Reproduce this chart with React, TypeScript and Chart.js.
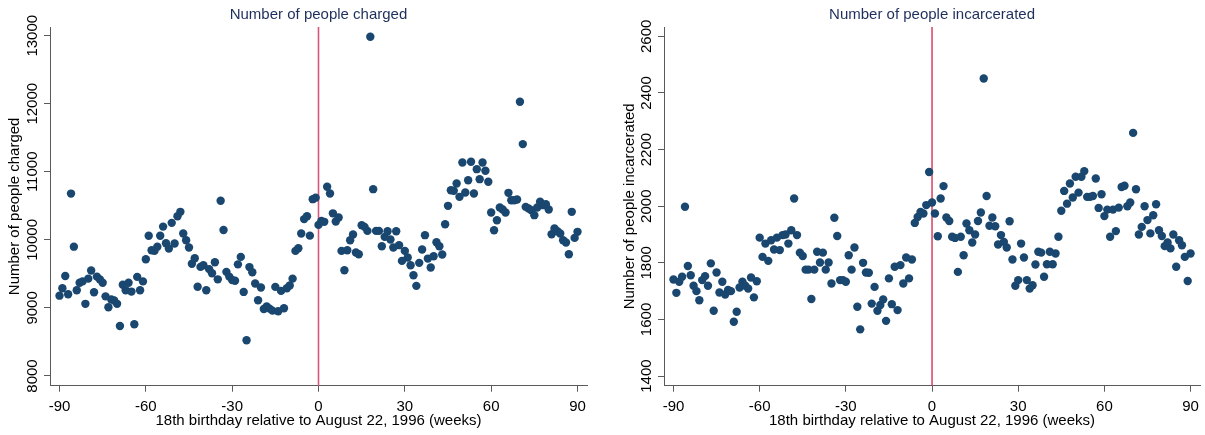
import { useEffect, useRef } from "react";
import Chart from "chart.js/auto";

// --- Data (weekly, -90 .. 90) ---
const WEEK_START = -90;
const WEEK_COUNT = 181;
const WEEKS = Array.from({ length: WEEK_COUNT }, (_, i) => WEEK_START + i);

const CHARGED = [
  9180, 9290, 9470, 9200, 10680, 9900, 9260, 9370, 9390, 9060,
  9430, 9550, 9230, 9460, 9420, 9370, 9170, 9010, 9125, 9110,
  9060, 8735, 9340, 9260, 9370, 9240, 8760, 9456, 9260, 9390,
  9716, 10060, 9848, 9838, 9900, 10060, 10195, 9950, 9873, 10250,
  9946, 10348, 10412, 10093, 9995, 9887, 9650, 9730, 9310, 9603,
  9627, 9260, 9570, 9510, 9670, 9420, 10574, 10145, 9530, 9460,
  9410, 9400, 9640, 9750, 9235, 8525, 9600, 9525, 9358, 9113,
  9300, 8985, 9020, 8990, 8960, 9309, 8951, 9250, 8995, 9290,
  9330, 9430, 9838, 9878, 10094, 10305, 10348, 10062, 10598, 10620,
  10220, 10279, 10265, 10780, 10682, 10390, 10270, 10330, 9838, 9554,
  9848, 9995, 10080, 9814, 9789, 10216, 10191, 10132, 12985, 10745,
  10132, 10132, 9907, 10044, 10127, 10005, 9887, 10127, 9922, 9691,
  9838, 9740, 9627, 9480, 9324, 9662, 9858, 10069, 9725, 9593,
  9760, 9966, 9907, 9784, 10230, 10500, 10730, 10721, 10828, 10632,
  11137, 10696, 10877, 11147, 10681, 11039, 10892, 11137, 11015, 10853,
  10402, 10142, 10289, 10475, 10446, 10402, 10691, 10583, 10583, 10593,
  12029, 11407, 10485, 10461, 10436, 10363, 10475, 10559, 10510, 10525,
  10446, 10083, 10167, 10127, 10093, 9995, 9961, 9789, 10412, 10029,
  10118,
];

const INCARCERATED = [
  1741, 1694, 1733, 1751, 1998, 1789, 1756, 1719, 1700, 1668,
  1739, 1753, 1719, 1798, 1631, 1766, 1695, 1733, 1688, 1704,
  1700, 1592, 1627, 1713, 1733, 1719, 1709, 1748, 1678, 1735,
  1889, 1821, 1868, 1807, 1880, 1847, 1889, 1845, 1898, 1900,
  1868, 1915, 2027, 1898, 1836, 1824, 1776, 1776, 1672, 1776,
  1839, 1801, 1836, 1776, 1801, 1727, 1959, 1895, 1739, 1739,
  1733, 1827, 1776, 1854, 1645, 1565, 1800, 1766, 1765, 1656,
  1715, 1631, 1651, 1671, 1595, 1745, 1654, 1786, 1633, 1792,
  1727, 1819, 1745, 1812, 1941, 1962, 1980, 1974, 2004, 2121,
  2013, 1974, 1894, 2027, 2071, 1960, 1948, 1892, 1888, 1768,
  1892, 1827, 1939, 1915, 1872, 1900, 1948, 1978, 2451, 2036,
  1931, 1960, 1929, 1865, 1898, 1874, 1854, 1947, 1812, 1719,
  1739, 1868, 1819, 1739, 1709, 1721, 1794, 1839, 1836, 1751,
  1795, 1839, 1795, 1833, 1892, 1984, 2054, 2009, 2080, 2031,
  2104, 2048, 2104, 2124, 2033, 2033, 2036, 2098, 1994, 2042,
  1965, 1988, 1892, 1988, 1912, 1995, 2068, 2072, 2000, 2013,
  2259, 2060, 1900, 1927, 2000, 1951, 1904, 1968, 2007, 1915,
  1895, 1859, 1872, 1851, 1900, 1786, 1880, 1862, 1821, 1736,
  1833,
];

const X_TICKS = [-90, -60, -30, 0, 30, 60, 90];
const CHARGED_TICKS = [8000, 9000, 10000, 11000, 12000, 13000];
const INCARCERATED_TICKS = [1400, 1600, 1800, 2000, 2200, 2400, 2600];
const CUTOFF_WEEK = 0;

const X_TITLE = "18th birthday relative to August 22, 1996 (weeks)";

// --- Styling ---
const FONT_FAMILY = '"Liberation Sans", Arial, Helvetica, sans-serif';
const MARKER = "#1a476f";
const TITLE_COLOR = "#1f2f5c";
const AXIS_COLOR = "#5a5a5a";

type PanelConfig = {
  title: string;
  yTitle: string;
  values: number[];
  yTicks: number[];
  yMin: number;
  yMax: number;
  width: number;
  axisWidth: number;
  padRight: number;
  yTitlePad: number;
  lineColor: string;
  lineWidth: number;
};

// vertical cutoff line at week 0
const cutoffLine = {
  id: "cutoffLine",
  beforeDatasetsDraw(chart: any, _args: any, opts: any) {
    const { ctx, chartArea, scales } = chart;
    const x = scales.x.getPixelForValue(CUTOFF_WEEK);
    ctx.save();
    ctx.strokeStyle = opts.color;
    ctx.lineWidth = opts.width;
    ctx.beginPath();
    ctx.moveTo(x, chartArea.top);
    ctx.lineTo(x, chartArea.bottom);
    ctx.stroke();
    ctx.restore();
  },
};

// Stata-style vertical y tick labels
const yTickLabels = {
  id: "yTickLabels",
  afterDraw(chart: any) {
    const { ctx } = chart;
    const s = chart.scales.y;
    ctx.save();
    ctx.fillStyle = "#000";
    ctx.font = `15px ${FONT_FAMILY}`;
    ctx.textAlign = "center";
    ctx.textBaseline = "middle";
    for (const t of s.ticks) {
      const y = s.getPixelForValue(t.value);
      ctx.save();
      ctx.translate(s.right - 17.5, y);
      ctx.rotate(-Math.PI / 2);
      ctx.fillText(String(t.value), 0, 0);
      ctx.restore();
    }
    ctx.restore();
  },
};

const Panel: React.FC<{ cfg: PanelConfig }> = ({ cfg }) => {
  const canvasRef = useRef<HTMLCanvasElement | null>(null);

  useEffect(() => {
    if (!canvasRef.current) return;
    const font = { family: FONT_FAMILY, size: 15, weight: "normal" as const };

    const chart = new Chart(canvasRef.current, {
      type: "scatter",
      data: {
        datasets: [
          {
            data: WEEKS.map((w, i) => ({ x: w, y: cfg.values[i] })),
            backgroundColor: MARKER,
            borderWidth: 0,
            pointRadius: 4.2,
            pointHoverRadius: 4.2,
          },
        ],
      },
      options: {
        animation: false,
        responsive: true,
        maintainAspectRatio: false,
        layout: { padding: { left: 0, right: cfg.padRight, top: 0, bottom: 0 } },
        plugins: {
          legend: { display: false },
          tooltip: { enabled: false },
          title: {
            display: true,
            text: cfg.title,
            color: TITLE_COLOR,
            font,
            fullSize: false,
            padding: { top: 6, bottom: 3 },
          },
          // @ts-ignore
          cutoffLine: { color: cfg.lineColor, width: cfg.lineWidth },
        },
        scales: {
          x: {
            type: "linear",
            min: -93.3,
            max: 93.3,
            afterBuildTicks: (s: any) => {
              s.ticks = X_TICKS.map(value => ({ value }));
            },
            afterFit: (s: any) => {
              s.height = 49.3;
            },
            ticks: { color: "#000", font, padding: 6, maxRotation: 0 },
            grid: { drawOnChartArea: false, drawTicks: true, tickLength: 6, color: AXIS_COLOR },
            border: { display: true, color: AXIS_COLOR, width: 1 },
            title: {
              display: true,
              text: X_TITLE,
              color: "#000",
              font,
              padding: { top: 0, bottom: 5.3 },
            },
          },
          y: {
            type: "linear",
            min: cfg.yMin,
            max: cfg.yMax,
            afterBuildTicks: (s: any) => {
              s.ticks = cfg.yTicks.map(value => ({ value }));
            },
            afterFit: (s: any) => {
              s.width = cfg.axisWidth;
            },
            ticks: { display: false },
            grid: { drawOnChartArea: false, drawTicks: true, tickLength: 6, color: AXIS_COLOR },
            border: { display: true, color: AXIS_COLOR, width: 1 },
            title: {
              display: true,
              text: cfg.yTitle,
              color: "#000",
              font,
              padding: { top: cfg.yTitlePad, bottom: 0 },
            },
          },
        },
      },
      plugins: [cutoffLine, yTickLabels],
    });

    return () => chart.destroy();
  }, [cfg]);

  return (
    <div style={{ position: "relative", width: cfg.width, height: 435 }}>
      <canvas ref={canvasRef} />
    </div>
  );
};

const LEFT: PanelConfig = {
  title: "Number of people charged",
  yTitle: "Number of people charged",
  values: CHARGED,
  yTicks: CHARGED_TICKS,
  yMin: 7857,
  yMax: 13128,
  width: 602,
  axisWidth: 50,
  padRight: 15,
  yTitlePad: 6,
  lineColor: "#d4587a",
  lineWidth: 1.6,
};

const RIGHT: PanelConfig = {
  title: "Number of people incarcerated",
  yTitle: "Number of people incarcerated",
  values: INCARCERATED,
  yTicks: INCARCERATED_TICKS,
  yMin: 1366,
  yMax: 2633,
  width: 603,
  axisWidth: 62,
  padRight: 4,
  yTitlePad: 19,
  lineColor: "#cc1136",
  lineWidth: 1.2,
};

export default function App() {
  return (
    <div
      style={{
        position: "fixed",
        left: 0,
        top: 0,
        width: 1205,
        height: 435,
        display: "flex",
        background: "#fff",
      }}
    >
      <Panel cfg={LEFT} />
      <Panel cfg={RIGHT} />
    </div>
  );
}
